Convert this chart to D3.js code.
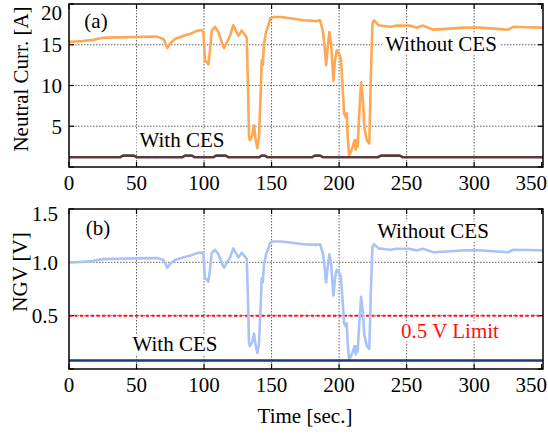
<!DOCTYPE html>
<html><head><meta charset="utf-8">
<script src="https://cdn.jsdelivr.net/npm/d3@7/dist/d3.min.js"></script>
<style>body{margin:0;background:#fff}svg{display:block}text{font-family:"Liberation Serif","Times New Roman",serif}</style>
</head><body>
<svg id="c" width="548" height="434"></svg>
<script>
// ---- data ----
const timeWithout = [0,5,10,18,25,35,50,65,70,72.8,75,78.5,85,90,94.6,98.3,99.5,100.7,102,103.2,104.4,105.7,108.1,110.6,113.1,114.8,116.8,119.3,121.7,123.5,125.4,127.9,129.6,131.6,132.4,133.3,134,135.8,137,138.3,139.5,140.7,142,142.7,143.5,144.4,145.9,147.7,148.9,151.3,157,163.7,173.6,183.5,185.9,187.9,189.1,190.4,191.6,192.8,194.1,195.8,197,198.3,200,201.3,202.5,203.7,205,205.7,206.4,207.4,208.9,210.1,211.4,212.3,213.1,213.8,214.8,216.3,217.6,218.7,220.5,222.4,223.5,224.7,225.9,229.1,237.8,242.7,252,257.5,262,269.9,279.8,292,304.6,317,325,329,339,351];
const currWithout = [15.35,15.4,15.45,15.6,15.85,15.9,15.95,16.0,15.7,14.6,15.2,15.7,16.1,16.35,16.7,16.8,16.6,13.1,12.9,12.6,14.3,16.75,17.2,16.55,15.3,14.6,15.3,16.1,17.4,16.75,16.1,16.75,16.35,15.9,11.0,3.7,3.3,3.9,5.1,3.3,2.3,3.7,9.4,13.1,12.5,15.1,16.55,17.4,18.2,18.4,18.4,18.25,18.0,17.9,18.0,16.75,15.1,12.5,14.7,16.55,15.1,10.6,13.1,14.3,13.9,13.3,10.2,6.6,6.1,6.6,3.7,1.45,1.9,2.5,3.3,2.1,3.3,2.5,6.1,10.4,8.2,4.9,3.3,2.9,11.0,17.6,18.0,17.4,17.2,17.35,17.35,17.1,17.35,16.85,16.95,17.1,17.1,16.95,16.85,17.2,17.15,17.1];
const ngvWithout = [1.0,1.001,1.004,1.014,1.03,1.034,1.037,1.04,1.021,0.949,0.988,1.021,1.047,1.063,1.086,1.092,1.079,0.852,0.839,0.819,0.93,1.089,1.118,1.076,0.995,0.949,0.995,1.047,1.131,1.089,1.047,1.089,1.063,1.034,0.715,0.241,0.215,0.254,0.332,0.215,0.15,0.241,0.611,0.852,0.813,0.982,1.076,1.131,1.183,1.196,1.196,1.186,1.17,1.164,1.17,1.089,0.982,0.813,0.956,1.076,0.982,0.689,0.852,0.93,0.904,0.865,0.663,0.429,0.397,0.429,0.241,0.094,0.124,0.163,0.215,0.137,0.215,0.163,0.397,0.676,0.533,0.319,0.215,0.189,0.715,1.144,1.17,1.131,1.118,1.128,1.128,1.112,1.128,1.095,1.102,1.112,1.112,1.102,1.095,1.118,1.115,1.112];
const timeWithCurr = [0,38,40,48,50,84,86,91,93,107,109,116,118,141,142.5,145,147,180,182,186,188,229,231,245,247,351];
const currWith = [1.2,1.2,1.4,1.4,1.2,1.2,1.4,1.4,1.2,1.2,1.4,1.4,1.2,1.2,1.4,1.4,1.2,1.2,1.4,1.4,1.2,1.2,1.4,1.4,1.2,1.2];
const timeWithNgv = [0,351];
const ngvWith = [0.08,0.08];
const limitTime = [0,351];
const limitNgv = [0.5,0.5];
const xTicks = [0,50,100,150,200,250,300,350];
const yTicksA = [0,5,10,15,20];
const yTickLabelsA = ["","5","10","15","20"];
const yTicksB = [0,0.5,1.0,1.5];
const yTickLabelsB = ["","0.5","1.0","1.5"];

// ---- drawing ----
const svg = d3.select("#c");
const FS = 21;
const x = d3.scaleLinear().domain([0,351]).range([69,543]);
const yA = d3.scaleLinear().domain([0,20]).range([167,4]);
const yB = d3.scaleLinear().domain([0,1.5]).range([369,209]);

function panel(y, ticks, tickLabels, id, labelX, topLabelY) {
  const [y0,y1] = y.range();
  const g = svg.append("g");
  svg.append("clipPath").attr("id",id).append("rect")
    .attr("x",x(0)).attr("y",y1).attr("width",x(351)-x(0)).attr("height",y0-y1);
  // grid
  xTicks.filter(t=>t>0&&t<350).forEach(t=>{
    g.append("line").attr("x1",x(t)).attr("x2",x(t)).attr("y1",y1).attr("y2",y0)
      .attr("stroke","#666").attr("stroke-width",1).attr("stroke-dasharray","1.5,1.5");
  });
  ticks.filter((t,i)=>i>0&&i<ticks.length-1).forEach(t=>{
    g.append("line").attr("x1",x(0)).attr("x2",x(351)).attr("y1",y(t)).attr("y2",y(t))
      .attr("stroke","#666").attr("stroke-width",1).attr("stroke-dasharray","1.5,1.5");
  });
  // inward ticks
  xTicks.forEach(t=>{
    g.append("line").attr("x1",x(t)).attr("x2",x(t)).attr("y1",y0).attr("y2",y0-5).attr("stroke","#000").attr("stroke-width",1.2);
    g.append("line").attr("x1",x(t)).attr("x2",x(t)).attr("y1",y1).attr("y2",y1+5).attr("stroke","#000").attr("stroke-width",1.2);
  });
  ticks.forEach(t=>{
    g.append("line").attr("x1",x(0)).attr("x2",x(0)+5).attr("y1",y(t)).attr("y2",y(t)).attr("stroke","#000").attr("stroke-width",1.2);
    g.append("line").attr("x1",x(351)).attr("x2",x(351)-5).attr("y1",y(t)).attr("y2",y(t)).attr("stroke","#000").attr("stroke-width",1.2);
  });
  // labels
  xTicks.forEach((t,i)=>{
    const last = i === xTicks.length-1;
    g.append("text").attr("x",last ? 547 : x(t)).attr("y",y0+16).attr("dy","0.35em")
      .attr("text-anchor",last ? "end" : "middle")
      .attr("font-size",FS).text(t);
  });
  ticks.forEach((t,i)=>{
    g.append("text").attr("x",labelX).attr("y",Math.max(y(t), topLabelY)).attr("dy","0.35em").attr("text-anchor","end")
      .attr("font-size",FS).text(tickLabels[i]);
  });
  return g;
}

const gA = panel(yA, yTicksA, yTickLabelsA, "clipA", 62, 13);
const gB = panel(yB, yTicksB, yTickLabelsB, "clipB", 58, 214);

function drawLine(g, xs, ys, y, color, width, clip, dash) {
  const pts = xs.map((t,i)=>[t, ys[i]]);
  const p = g.append("path").datum(pts)
    .attr("d", d3.line().x(d=>x(d[0])).y(d=>y(d[1])))
    .attr("fill","none").attr("stroke",color).attr("stroke-width",width)
    .attr("stroke-linejoin","round").attr("clip-path",`url(#${clip})`);
  if (dash) p.attr("stroke-dasharray",dash);
}

drawLine(gA, timeWithout, currWithout, yA, "#ffa854", 2.6, "clipA");
drawLine(gA, timeWithCurr, currWith, yA, "#5a3a3c", 2.6, "clipA");
drawLine(gB, limitTime, limitNgv, yB, "#ff1010", 2, "clipB", "3,2.5");
drawLine(gB, timeWithout, ngvWithout, yB, "#a9c3f7", 2.6, "clipB");
drawLine(gB, timeWithNgv, ngvWith, yB, "#1b3a7c", 2.6, "clipB");

function label(txt, cx, cy, color) {
  const t = svg.append("text").attr("x",cx).attr("y",cy).attr("dy","0.35em").attr("text-anchor","middle")
    .attr("font-size",FS).attr("fill",color||"#000").text(txt);
  const b = t.node().getBBox();
  svg.insert("rect", () => t.node()).attr("x",b.x-3).attr("y",b.y+2).attr("width",b.width+6).attr("height",b.height-4).attr("fill","#fff");
}
label("Without CES", 441, 44);
label("With CES", 182, 140);
label("Without CES", 433, 231);
label("With CES", 175, 344);
label("0.5 V Limit", 450, 331, "#ff1010");

svg.append("text").attr("x",96).attr("y",21).attr("dy","0.35em").attr("text-anchor","middle").attr("font-size",FS).text("(a)");
svg.append("text").attr("x",98).attr("y",228).attr("dy","0.35em").attr("text-anchor","middle").attr("font-size",FS).text("(b)");

// frames
[[yA],[yB]].forEach(([y])=>{
  const [y0,y1]=y.range();
  svg.append("rect").attr("x",x(0)).attr("y",y1).attr("width",x(351)-x(0)).attr("height",y0-y1)
    .attr("fill","none").attr("stroke","#000").attr("stroke-width",1.5);
});

// axis titles
svg.append("text").attr("transform","translate(21,79) rotate(-90)").attr("dy","0.35em").attr("text-anchor","middle").attr("font-size",FS).text("Neutral Curr. [A]");
svg.append("text").attr("transform","translate(20,272) rotate(-90)").attr("dy","0.35em").attr("text-anchor","middle").attr("font-size",FS).text("NGV [V]");
svg.append("text").attr("x",305).attr("y",416).attr("dy","0.35em").attr("text-anchor","middle").attr("font-size",FS).text("Time [sec.]");
</script>
</body></html>
